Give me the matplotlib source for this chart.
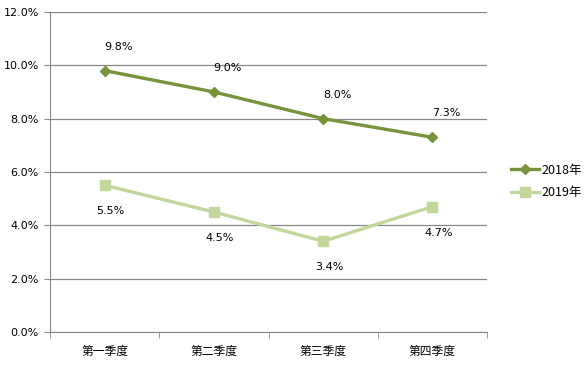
import matplotlib.pyplot as plt
from matplotlib.ticker import FuncFormatter, FixedLocator

plt.rcParams['font.family'] = ['Noto Sans CJK SC', 'DejaVu Sans']

quarters = ['第一季度', '第二季度', '第三季度', '第四季度']
rate_2018 = [9.8, 9.0, 8.0, 7.3]
rate_2019 = [5.5, 4.5, 3.4, 4.7]

c18 = '#77933C'
c19 = '#C3D69B'

fig = plt.figure(figsize=(5.85, 3.73), dpi=100)
ax = fig.add_axes([0.0855, 0.11, 0.747, 0.858])

x = range(len(quarters))
ax.plot(x, rate_2018, color=c18, lw=2.4, marker='D', ms=5, label='2018年')
ax.plot(x, rate_2019, color=c19, lw=2.4, marker='s', ms=6.5, label='2019年')

for i, v in enumerate(rate_2018):
    ax.annotate(f'{v:.1f}%', (i, v), xytext=(14, 24), textcoords='offset pixels',
                ha='center', va='center', fontsize=8, family='DejaVu Sans')
for i, v in enumerate(rate_2019):
    ax.annotate(f'{v:.1f}%', (i, v), xytext=(6, -26), textcoords='offset pixels',
                ha='center', va='center', fontsize=8, family='DejaVu Sans')

ax.set_xlim(-0.5, 3.5)
ax.set_ylim(0, 12)
ax.set_yticks(range(0, 13, 2))
ax.yaxis.set_major_formatter(FuncFormatter(lambda v, p: f'{v:.1f}%'))
ax.set_xticks(list(x))
ax.set_xticklabels(quarters, fontsize=8.5)
ax.xaxis.set_minor_locator(FixedLocator([-0.5, 0.5, 1.5, 2.5, 3.5]))
ax.tick_params(axis='x', which='major', length=0, pad=9)
ax.tick_params(axis='x', which='minor', length=4, color='#888888')
ax.tick_params(axis='y', length=4, color='#888888', labelsize=8, pad=4)
for lab in ax.get_yticklabels():
    lab.set_family('DejaVu Sans')

ax.grid(axis='y', color='#888888', lw=0.9)
ax.set_axisbelow(True)
for s in ['top', 'right']:
    ax.spines[s].set_visible(False)
for s in ['left', 'bottom']:
    ax.spines[s].set_color('#888888')

ax.legend(loc='center left', bbox_to_anchor=(1.03, 0.47), frameon=False,
          fontsize=9, handlelength=2.2, labelspacing=0.75, handletextpad=0.2)

fig.savefig('out.png', dpi=100)
